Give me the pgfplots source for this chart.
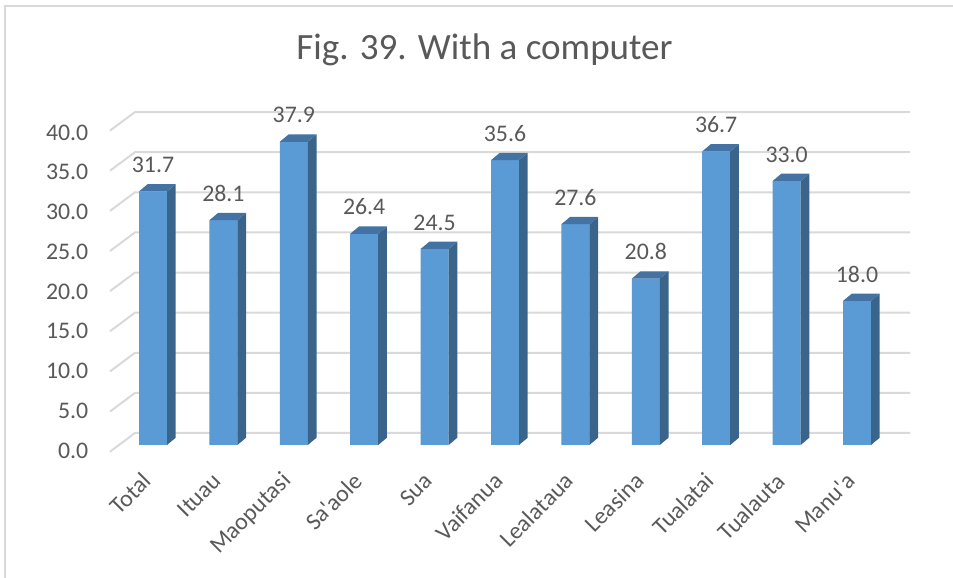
\documentclass[border=0pt]{standalone}
\usepackage{pgfplots}
\pgfplotsset{compat=1.18}
\usepackage{pgfplotstable}
\usepackage{fontspec}
\setmainfont{Carlito}
\definecolor{frontcol}{HTML}{5B9BD5}
\definecolor{sidecol}{HTML}{3A6489}
\definecolor{topcol}{HTML}{4472A2}
\definecolor{gridcol}{HTML}{D9D9D9}
\definecolor{txt}{HTML}{595959}
\pgfdeclareplotmark{bar3d}{%
  \pgfpathmoveto{\pgfpoint{14bp}{0bp}}%
  \pgfpathlineto{\pgfpoint{22.7bp}{7.3bp}}%
  \pgfpathlineto{\pgfpoint{22.7bp}{7.3bp-\val*8bp}}%
  \pgfpathlineto{\pgfpoint{14bp}{-\val*8bp}}%
  \pgfpathclose
  \pgfsetfillcolor{sidecol}\pgfusepath{fill}%
  \pgfpathmoveto{\pgfpoint{-14bp}{0bp}}%
  \pgfpathlineto{\pgfpoint{14bp}{0bp}}%
  \pgfpathlineto{\pgfpoint{22.7bp}{7.3bp}}%
  \pgfpathlineto{\pgfpoint{-5.3bp}{7.3bp}}%
  \pgfpathclose
  \pgfsetfillcolor{topcol}\pgfusepath{fill}%
}
\pgfplotstableread{
x v
0 31.7
1 28.1
2 37.9
3 26.4
4 24.5
5 35.6
6 27.6
7 20.8
8 36.7
9 33.0
10 18.0
}\datatable
\begin{document}
\begin{tikzpicture}
\useasboundingbox (0,0) rectangle (953bp,578bp);
\draw[gridcol, line width=1.5bp] (5bp,-2bp) rectangle (965bp,572bp);
\node[anchor=base, text=txt, font=\fontsize{37.2}{44}\selectfont, inner sep=0pt] at (484.5bp,518bp) {Fig. 39. With a computer};
\begin{axis}[
  at={(135bp,126bp)}, anchor=south west,
  x=70.4bp, y=8bp,
  xmin=-0.2557, xmax=10.753, ymin=-0.875, ymax=42,
  enlargelimits=false, clip=false,
  axis line style={draw=none}, tick style={draw=none},
  xtick={0,1,2,3,4,5,6,7,8,9,10},
  xticklabels={Total,Ituau,Maoputasi,Sa\textquotesingle aole,Sua,Vaifanua,Lealataua,Leasina,Tualatai,Tualauta,Manu\textquotesingle a},
  xticklabel style={xshift=-6bp, yshift=-25bp, rotate=45, anchor=east, inner sep=0pt, text=txt, font=\fontsize{23.9}{28}\selectfont},
  ytick={-0.69,4.28,9.25,14.22,19.19,24.16,29.13,34.09,39.06},
  yticklabels={0.0,5.0,10.0,15.0,20.0,25.0,30.0,35.0,40.0},
  yticklabel style={anchor=east, inner sep=0pt, xshift=-46.5bp, text=txt, font=\fontsize{23.9}{28}\selectfont},
  /pgf/number format/assume math mode=true,
]
\pgfplotsinvokeforeach{0,5,...,40}{
  \draw[gridcol, line width=2bp] (axis cs:-0.6108,{#1*1.0035-0.84}) -- (axis cs:-0.2557,{#1*1.003+1.5}) -- (axis cs:10.753,{#1*1.003+1.5});
}
\addplot[ybar, bar width=28bp, fill=frontcol, draw=none,
  nodes near coords={\pgfmathprintnumber[fixed,fixed zerofill,precision=1]{\pgfplotspointmeta}},
  every node near coord/.append style={inner sep=0pt, yshift=18.5bp, text=txt, font=\fontsize{23.9}{28}\selectfont}]
  table[x=x,y=v]{\datatable};
\addplot[only marks, mark=bar3d, visualization depends on={rawy \as \val}]
  table[x=x,y=v]{\datatable};
\end{axis}
\end{tikzpicture}
\end{document}
